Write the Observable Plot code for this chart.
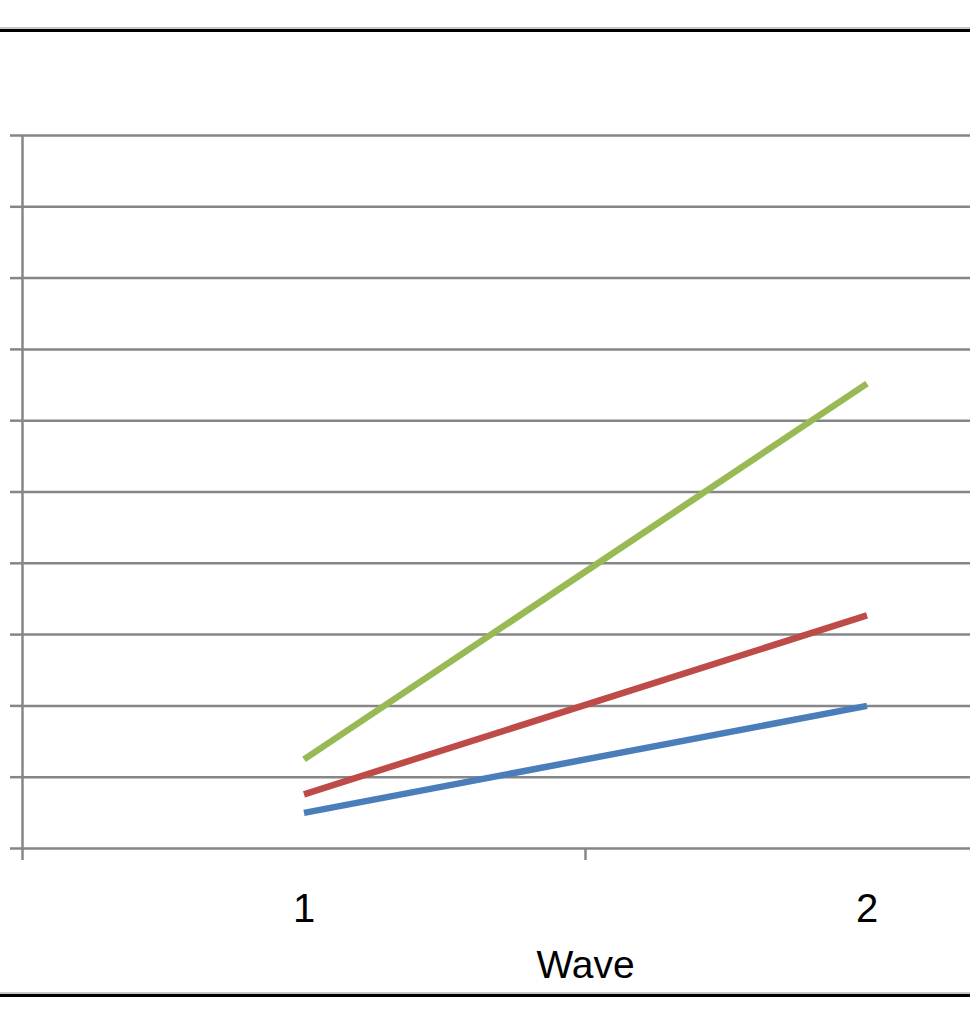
<!DOCTYPE html>
<html>
<head>
<meta charset="utf-8">
<script src="https://cdn.jsdelivr.net/npm/d3@7"></script>
<script src="https://cdn.jsdelivr.net/npm/@observablehq/plot@0.6"></script>
<style>
  html, body { margin: 0; padding: 0; background: #fff; }
  #wrap { position: relative; width: 970px; height: 1024px; overflow: hidden; }
  .border { position: absolute; left: 0; width: 970px; height: 3px; background: #000; border-top: 2px solid #c8c8c8; }
</style>
</head>
<body>
<div id="wrap">
  <div class="border" style="top:27px"></div>
  <div class="border" style="top:992px"></div>
</div>
<script>
const waves = [1, 2];
const seriesNames = ["Series1", "Series2", "Series3"];
const seriesColors = ["#4a7ebb", "#be4b48", "#98b954"];
const series1 = [0.5, 2.0];
const series2 = [0.76, 3.27];
const series3 = [1.25, 6.52];
const yTicks = [0, 1, 2, 3, 4, 5, 6, 7, 8, 9, 10];
const xBoundaryTicks = [0.5, 1.5, 2.5];

const allValues = [series1, series2, series3];
const data = [];
seriesNames.forEach((s, i) => {
  waves.forEach((w, j) => data.push({series: s, wave: w, value: allValues[i][j]}));
});

const gridColor = "#868686";
const chart = Plot.plot({
  width: 970,
  height: 1024,
  marginTop: 135,
  marginBottom: 176,
  marginLeft: 22,
  marginRight: 0,
  style: {fontFamily: "Liberation Sans", fontSize: "40px", color: "#000", background: "transparent"},
  x: {type: "linear", domain: [0.5, 2.5], range: [22, 1148], label: null},
  y: {domain: [0, 10], label: null},
  color: {domain: seriesNames, range: seriesColors},
  marks: [
    Plot.gridY(yTicks, {stroke: gridColor, strokeOpacity: 1, strokeWidth: 2.5}),
    Plot.axisY(yTicks, {tickSize: 12, tickFormat: () => "", stroke: gridColor, strokeWidth: 2.5, strokeOpacity: 1, label: null}),
    Plot.ruleX([0.5], {stroke: gridColor, strokeWidth: 2.5}),
    Plot.axisX(xBoundaryTicks, {tickSize: 12, tickFormat: () => "", stroke: gridColor, strokeWidth: 2.5, label: null}),
    Plot.axisX(waves, {tickSize: 0, tickPadding: 45, tickFormat: d => String(d), fontSize: 40, label: null}),
    Plot.text(["Wave"], {x: 1.5, frameAnchor: "bottom", dy: 102, fontSize: 39, fill: "#000", lineAnchor: "top"}),
    Plot.line(data, {x: "wave", y: "value", z: "series", stroke: "series", strokeWidth: 6.5, strokeLinecap: "butt"})
  ]
});
chart.style.position = "absolute";
chart.style.left = "0";
chart.style.top = "0";
document.getElementById("wrap").prepend(chart);
</script>
</body>
</html>
